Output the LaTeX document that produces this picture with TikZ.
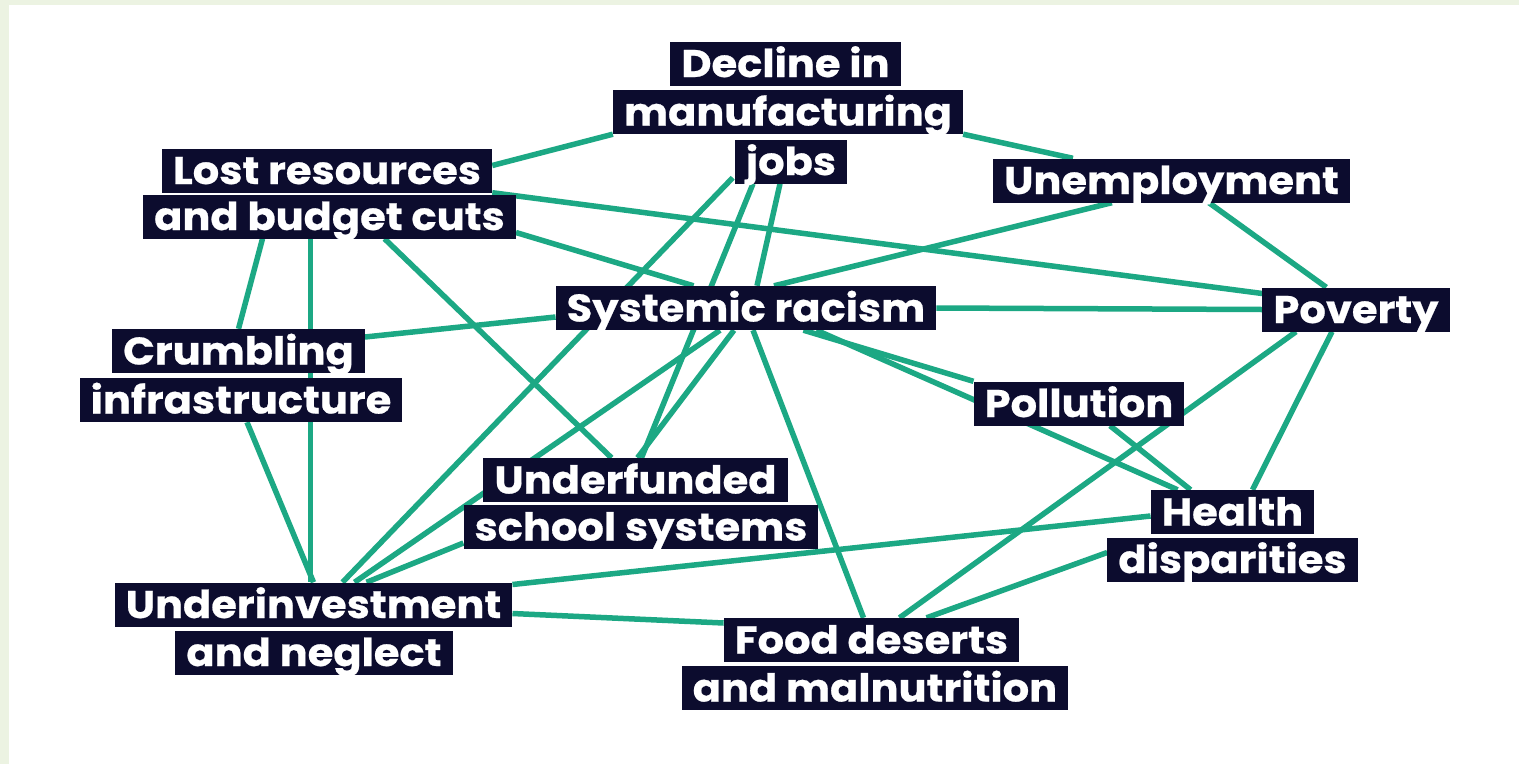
\documentclass[tikz,border=0pt]{standalone}
\usepackage{fontspec}
\setmainfont{Poppins}[FakeStretch=1.08,BoldFeatures={FakeBold=0.6}]
\usetikzlibrary{calc}
\definecolor{EdgeClr}{RGB}{28,168,132}
\definecolor{BoxClr}{RGB}{12,12,46}
\definecolor{MarginClr}{RGB}{236,243,226}
\pgfdeclarelayer{links}
\pgfsetlayers{links,main}

\begin{document}
\begin{tikzpicture}[x=1pt,y=-1pt,
  causebox/.style={fill=BoxClr,text=white,inner xsep=11pt,inner ysep=0pt,
    font=\fontsize{38.5}{38.5}\selectfont\bfseries,
    text height=31pt,text depth=4pt,minimum height=44pt},
  link/.style={draw=EdgeClr,line width=5.5pt}]

\useasboundingbox (0,0) rectangle (1519,764);

% labels, one box per line
\node[causebox] (decA) at (785.5,63.5) {Decline in};
\node[causebox] (decB) at (788,112) {manufacturing};
\node[causebox] (decC) at (791,161.5) {jobs};
\node[causebox] (lostA) at (327,170.5) {Lost resources};
\node[causebox] (lostB) at (329.5,216.5) {and budget cuts};
\node[causebox] (unemp) at (1171.5,180.5) {Unemployment};
\node[causebox] (racism) at (746,308) {Systemic racism};
\node[causebox] (poverty) at (1356,309.5) {Poverty};
\node[causebox] (crumbA) at (238.5,351) {Crumbling};
\node[causebox] (crumbB) at (241,400) {infrastructure};
\node[causebox] (pollution) at (1079,403.5) {Pollution};
\node[causebox] (healthA) at (1232.5,512) {Health};
\node[causebox] (healthB) at (1232.5,559.5) {disparities};
\node[causebox] (schoolA) at (635.5,480) {Underfunded};
\node[causebox] (schoolB) at (641,527) {school systems};
\node[causebox] (investA) at (313.5,604.5) {Underinvestment};
\node[causebox] (investB) at (314,652.5) {and neglect};
\node[causebox] (foodA) at (871.5,640) {Food deserts};
\node[causebox] (foodB) at (875,688) {and malnutrition};

% links, drawn under the boxes
\begin{pgfonlayer}{links}
\fill[MarginClr] (0,0) rectangle (1519,764);
\fill[white] (9,5) rectangle (1519,764);

\draw[link] ($(lostA.east)+(0,-5)$) -- (decB.south west);
\draw[link] (decB.south east) -- ($(unemp.north west)+(80,0)$);
\draw[link] (lostA.south east) -- ($(poverty.west)+(0,-16)$);
\draw[link] ($(lostB.east)+(0,16)$) -- ($(racism.north west)+(138,0)$);
\draw[link] ($(lostB.south)+(-67,0)$) -- (crumbA.north);
\draw[link] ($(lostB.south)+(-19,0)$) -- ($(investA.north)+(-3,0)$);
\draw[link] ($(lostB.south)+(55,0)$) -- ($(schoolA.north)+(-24,0)$);

\draw[link] ($(decC.south west)+(-2,-6)$) -- ($(investA.north)+(29,0)$);
\draw[link] ($(decC.south)+(-38,0)$) -- ($(schoolA.north)+(6,0)$);
\draw[link] ($(decC.south)+(-11,0)$) -- ($(racism.north)+(11,0)$);

\draw[link] ($(unemp.south west)+(119,0)$) -- ($(racism.north)+(28,0)$);
\draw[link] ($(unemp.south west)+(216,0)$) -- ($(poverty.north west)+(64,0)$);

\draw[link] ($(crumbA.east)+(0,-14)$) -- ($(racism.west)+(0,9)$);
\draw[link] ($(crumbB.south)+(6,0)$) -- (investA.north);

\draw[link] (racism.east) -- (poverty.west);
\draw[link] ($(racism.south east)+(-133,0)$) -- (pollution.north west);
\draw[link] ($(racism.south east)+(-120,0)$) -- ($(healthA.north west)+(27,0)$);
\draw[link] ($(racism.south)+(7,0)$) -- ($(foodA.north)+(-8,0)$);
\draw[link] ($(racism.south)+(-12,0)$) -- ($(schoolA.north)+(2,0)$);
\draw[link] ($(racism.south)+(-26,0)$) -- ($(investA.north)+(41,0)$);

\draw[link] ($(poverty.south)+(-60,0)$) -- ($(foodA.north)+(28,0)$);
\draw[link] ($(poverty.south)+(-24,0)$) -- ($(healthA.north)+(20,0)$);
\draw[link] ($(pollution.south)+(31,0)$) -- ($(healthA.north west)+(40,0)$);
\draw[link] ($(healthB.west)+(0,-7)$) -- ($(foodA.north)+(55,0)$);

\draw[link] ($(investA.east)+(0,-20)$) -- ($(healthA.west)+(0,4)$);
\draw[link] ($(investA.east)+(0,9)$) -- ($(foodA.west)+(0,-17)$);
\draw[link] ($(investA.north)+(53,0)$) -- ($(schoolB.west)+(0,16)$);
\end{pgfonlayer}

\end{tikzpicture}
\end{document}
